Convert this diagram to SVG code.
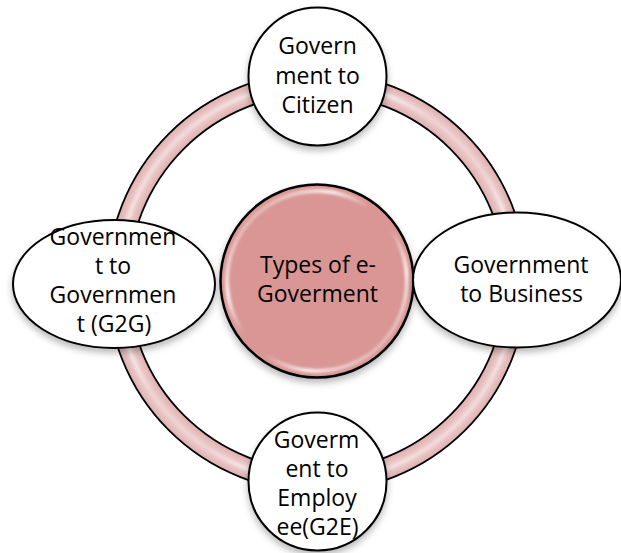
<svg xmlns="http://www.w3.org/2000/svg" width="621" height="553" viewBox="0 0 621 553">
  <defs>
    <style>
      .node { fill: #ffffff; stroke: #000000; stroke-width: 2; }
      .label { font-family: "Open Sans", "Noto Sans", "Liberation Sans", sans-serif; font-size: 23px; fill: #000000; text-anchor: middle; }
    </style>
    <!-- soft shadow under the shapes -->
    <filter id="shadow" x="-20%" y="-20%" width="140%" height="150%">
      <feDropShadow dx="0" dy="4" stdDeviation="3.5" flood-color="#000000" flood-opacity="0.28"/>
    </filter>
    <filter id="soften" x="-10%" y="-10%" width="120%" height="120%">
      <feGaussianBlur stdDeviation="1.6"/>
    </filter>
    <!-- pink band shading: darker at both edges, lighter in the middle -->
    <radialGradient id="bandFill" gradientUnits="userSpaceOnUse" cx="317" cy="282" r="210">
      <stop offset="0" stop-color="#ddacac"/>
      <stop offset="0.895" stop-color="#ddacac"/>
      <stop offset="0.948" stop-color="#f0d3d3"/>
      <stop offset="1" stop-color="#ddacac"/>
    </radialGradient>
    <!-- glossy streak, strongest toward upper-left and lower-right -->
    <linearGradient id="gloss" gradientUnits="userSpaceOnUse" x1="176" y1="141" x2="458" y2="423">
      <stop offset="0" stop-color="#ffffff" stop-opacity="0.2"/>
      <stop offset="0.22" stop-color="#ffffff" stop-opacity="0.95"/>
      <stop offset="0.4" stop-color="#ffffff" stop-opacity="0"/>
      <stop offset="0.6" stop-color="#ffffff" stop-opacity="0"/>
      <stop offset="0.8" stop-color="#ffffff" stop-opacity="0.95"/>
      <stop offset="1" stop-color="#ffffff" stop-opacity="0.2"/>
    </linearGradient>
    <linearGradient id="hubGloss" gradientUnits="userSpaceOnUse" x1="250" y1="214" x2="384" y2="348">
      <stop offset="0" stop-color="#ffffff" stop-opacity="0.3"/>
      <stop offset="0.22" stop-color="#ffffff" stop-opacity="0.95"/>
      <stop offset="0.42" stop-color="#ffffff" stop-opacity="0"/>
      <stop offset="0.58" stop-color="#ffffff" stop-opacity="0"/>
      <stop offset="0.8" stop-color="#ffffff" stop-opacity="0.95"/>
      <stop offset="1" stop-color="#ffffff" stop-opacity="0.3"/>
    </linearGradient>
  </defs>

  <rect width="621" height="553" fill="#ffffff"/>

  <!-- ring joining the outer nodes -->
  <g id="connectors">
    <circle cx="317" cy="282" r="199" fill="none" stroke="#000000" stroke-width="23"/>
    <circle cx="317" cy="282" r="199" fill="none" stroke="url(#bandFill)" stroke-width="19.5"/>
    <circle cx="317" cy="282" r="199.5" fill="none" stroke="url(#gloss)" stroke-width="3.5" filter="url(#soften)"/>
  </g>

  <!-- hub -->
  <g id="hub">
    <circle cx="317" cy="281" r="96.5" fill="#d99694" stroke="#000000" stroke-width="2.5" filter="url(#shadow)"/>
    <circle cx="317" cy="281" r="90" fill="none" stroke="url(#hubGloss)" stroke-width="3.5" filter="url(#soften)"/>
    <text class="label" x="318" y="273">Types of e-</text>
    <text class="label" x="317.5" y="302">Goverment</text>
  </g>

  <g id="g2c">
    <circle class="node" cx="317.5" cy="76.5" r="69" filter="url(#shadow)"/>
    <text class="label" x="317.5" y="54">Govern</text>
    <text class="label" x="317.5" y="84">ment to</text>
    <text class="label" x="317.5" y="113">Citizen</text>
  </g>

  <g id="g2b">
    <ellipse class="node" cx="517" cy="280" rx="104" ry="67.5" filter="url(#shadow)"/>
    <text class="label" x="521" y="273">Government</text>
    <text class="label" x="521.5" y="302">to Business</text>
  </g>

  <g id="g2e">
    <circle class="node" cx="317.5" cy="481.5" r="69" filter="url(#shadow)"/>
    <text class="label" x="316.5" y="448">Goverm</text>
    <text class="label" x="317" y="477">ent to</text>
    <text class="label" x="317" y="506">Employ</text>
    <text class="label" x="317.5" y="535">ee(G2E)</text>
  </g>

  <g id="g2g">
    <ellipse class="node" cx="114" cy="284" rx="101" ry="64" filter="url(#shadow)"/>
    <text class="label" x="113" y="245">Governmen</text>
    <text class="label" x="113" y="274">t to</text>
    <text class="label" x="113" y="303">Governmen</text>
    <text class="label" x="114" y="332">t (G2G)</text>
  </g>
</svg>
